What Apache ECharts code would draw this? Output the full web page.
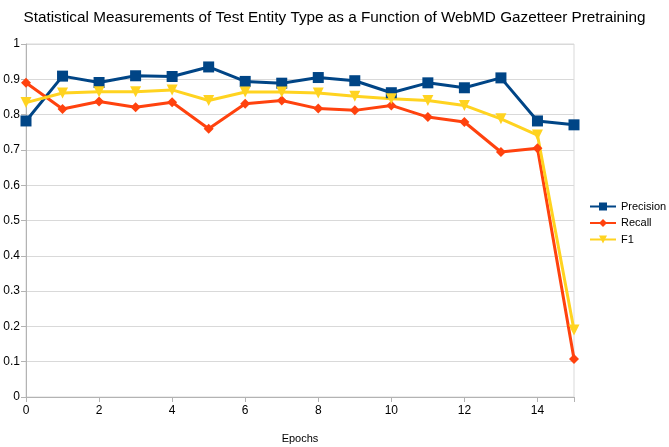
<!DOCTYPE html>
<html>
<head>
<meta charset="utf-8">
<script src="https://cdn.jsdelivr.net/npm/echarts@6/dist/echarts.min.js"></script>
<style>
html, body { margin: 0; padding: 0; background: #fff; }
#chart { width: 669px; height: 447px; }
</style>
</head>
<body>
<div id="chart"></div>
<script>
// epochs 0..15
const epochs = [0, 1, 2, 3, 4, 5, 6, 7, 8, 9, 10, 11, 12, 13, 14, 15];
const precision = [0.782, 0.909, 0.891, 0.910, 0.908, 0.935, 0.894, 0.889, 0.905, 0.896, 0.862, 0.890, 0.876, 0.904, 0.782, 0.771];
const recall = [0.890, 0.816, 0.837, 0.821, 0.835, 0.760, 0.831, 0.840, 0.817, 0.812, 0.826, 0.793, 0.779, 0.694, 0.705, 0.108];
const f1 = [0.834, 0.861, 0.865, 0.865, 0.870, 0.840, 0.864, 0.864, 0.861, 0.852, 0.845, 0.840, 0.826, 0.788, 0.742, 0.190];

const pairs = arr => epochs.map((e, i) => [e, arr[i]]);

const myChart = echarts.init(document.getElementById('chart'), null, { renderer: 'canvas' });

const font = 'Liberation Sans';

const option = {
    animation: false,
    backgroundColor: '#fff',
    title: {
        text: 'Statistical Measurements of Test Entity Type as a Function of WebMD Gazetteer Pretraining',
        left: 'center',
        top: 5,
        textStyle: { fontFamily: font, fontSize: 15.3, fontWeight: 'normal', color: '#000' }
    },
    legend: {
        orient: 'vertical',
        left: 589,
        top: 201,
        padding: 0,
        itemWidth: 26,
        itemHeight: 10,
        itemGap: 5.5,
        textStyle: { fontFamily: font, fontSize: 11, color: '#000' },
        data: ['Precision', 'Recall', 'F1']
    },
    grid: {
        left: 26,
        right: 95,
        top: 44,
        bottom: 50,
        outerBoundsMode: 'none',
        containLabel: false,
        show: true,
        borderColor: '#d9d9d9',
        borderWidth: 1
    },
    xAxis: {
        type: 'value',
        min: 0,
        max: 15,
        interval: 2,
        name: 'Epochs',
        nameLocation: 'middle',
        nameGap: 36,
        nameTextStyle: { fontFamily: font, fontSize: 11, color: '#000' },
        axisLine: { lineStyle: { color: '#b3b3b3' } },
        axisTick: { show: true, length: 5, lineStyle: { color: '#b3b3b3' } },
        axisLabel: {
            fontFamily: font, fontSize: 12, color: '#000', margin: 8,
            formatter: v => (v % 2 === 0 ? String(v) : '')
        },
        splitLine: { show: false }
    },
    yAxis: {
        type: 'value',
        min: 0,
        max: 1,
        interval: 0.1,
        axisLine: { show: true, lineStyle: { color: '#b3b3b3' } },
        axisTick: { show: true, length: 5, lineStyle: { color: '#b3b3b3' } },
        axisLabel: {
            fontFamily: font, fontSize: 12, color: '#000', margin: 6,
            formatter: v => String(Math.round(v * 10) / 10)
        },
        splitLine: { show: true, lineStyle: { color: '#d9d9d9' } }
    },
    series: [{
        name: 'Precision',
        type: 'line',
        data: pairs(precision),
        symbol: 'rect',
        symbolSize: 11,
        lineStyle: { color: '#004586', width: 3 },
        itemStyle: { color: '#004586' }
    }, {
        name: 'Recall',
        type: 'line',
        data: pairs(recall),
        symbol: 'diamond',
        symbolSize: 10,
        lineStyle: { color: '#ff420e', width: 3 },
        itemStyle: { color: '#ff420e' }
    }, {
        name: 'F1',
        type: 'line',
        data: pairs(f1),
        symbol: 'triangle',
        symbolRotate: 180,
        symbolSize: 11,
        lineStyle: { color: '#ffd320', width: 3 },
        itemStyle: { color: '#ffd320' }
    }]
};

myChart.setOption(option);
</script>
</body>
</html>
